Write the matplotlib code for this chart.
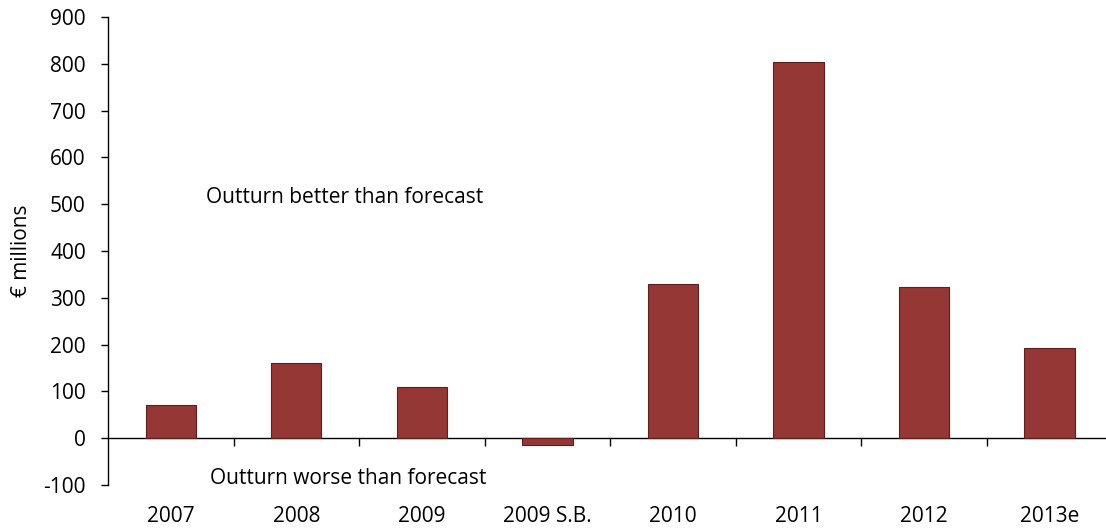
import matplotlib
matplotlib.use("Agg")
import matplotlib.pyplot as plt
import numpy as np

categories = ["2007", "2008", "2009", "2009 S.B.", "2010", "2011", "2012", "2013e"]
values = [71, 161, 109, -15, 330, 803, 324, 193]
y_ticks = list(range(-100, 1000, 100))

plt.rcParams["font.family"] = ["Open Sans", "DejaVu Sans"]
FS = 15

fig = plt.figure(figsize=(11.06, 5.28), dpi=100)
ax = fig.add_axes([0.0977, 0.0814, 0.908, 0.8864])

x = np.arange(len(categories))
ax.bar(x, values, width=0.4, color="#953735", edgecolor="#5c1f1d", linewidth=0.8, zorder=2)

ax.set_xlim(-0.5, len(categories) - 0.5)
ax.set_ylim(-100, 900)
ax.set_yticks(y_ticks)
ax.set_yticklabels([str(v) for v in y_ticks], fontsize=FS)
ax.tick_params(axis="y", direction="out", length=5, width=1, pad=11)
ax.set_ylabel("€ millions", fontsize=FS, labelpad=8)

# category labels along the bottom, no tick marks there
ax.set_xticks(x)
ax.set_xticklabels(categories, fontsize=FS)
ax.tick_params(axis="x", length=0, pad=15)

for side in ["top", "right", "bottom"]:
    ax.spines[side].set_visible(False)
ax.spines["left"].set_linewidth(1)

# zero line with category boundary ticks
zero_frac = (0 - ax.get_ylim()[0]) / (ax.get_ylim()[1] - ax.get_ylim()[0])
sec = ax.secondary_xaxis(zero_frac)
sec.set_xticks(np.arange(0.5, len(categories), 1.0))
sec.set_xticklabels([])
sec.tick_params(axis="x", direction="out", length=6, width=1)
sec.spines["bottom"].set_linewidth(1)

ax.text(0.28, 514, "Outturn better than forecast", fontsize=FS, ha="left", va="center")
ax.text(0.31, -86, "Outturn worse than forecast", fontsize=FS, ha="left", va="center")

fig.savefig("out.png", dpi=100)
